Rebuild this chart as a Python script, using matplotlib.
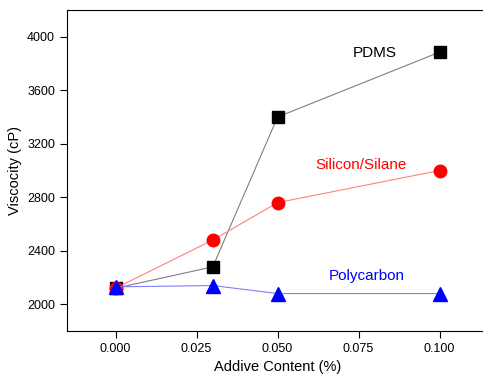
import matplotlib
matplotlib.use('Agg')
import matplotlib.pyplot as plt

content = [0.0, 0.03, 0.05, 0.10]
pdms = [2120, 2280, 3400, 3885]
silane = [2120, 2480, 2760, 3000]
polycarbon = [2130, 2140, 2080, 2080]


def main():
    plt.rcParams['font.family'] = ['Liberation Sans', 'DejaVu Sans']
    fig = plt.figure(figsize=(4.83, 3.75), dpi=100)
    ax = fig.add_axes([0.1387, 0.1173, 0.872, 0.856])

    ax.plot(content, pdms, color='#7f7f7f', lw=0.8, marker='s', ms=8,
            mfc='black', mec='black')
    ax.plot(content, silane, color='#ff8080', lw=0.8, marker='o', ms=9,
            mfc='red', mec='red')
    ax.plot(content, polycarbon, color='#8080ff', lw=0.8, marker='^', ms=10,
            mfc='blue', mec='blue')

    # series labels
    ax.text(0.080, 3878, 'PDMS', color='black', fontsize=11, ha='center', va='center')
    ax.text(0.0759, 3044, 'Silicon/Silane', color='red', fontsize=11, ha='center', va='center')
    ax.text(0.0776, 2215, 'Polycarbon', color='blue', fontsize=11, ha='center', va='center')

    ax.set_xlim(-0.015, 0.115)
    ax.set_ylim(1800, 4200)
    ax.set_xticks([0.0, 0.025, 0.05, 0.075, 0.1])
    ax.set_xticklabels(['0.000', '0.025', '0.050', '0.075', '0.100'])
    ax.set_yticks([2000, 2400, 2800, 3200, 3600, 4000])
    ax.tick_params(direction='out', length=5, width=0.8, labelsize=9)
    ax.set_xlabel('Addive Content (%)', fontsize=10.5)
    ax.set_ylabel('Viscocity (cP)', fontsize=10.5)
    ax.spines['right'].set_visible(False)

    fig.savefig('out.png', dpi=100)


if __name__ == "__main__":
    main()
